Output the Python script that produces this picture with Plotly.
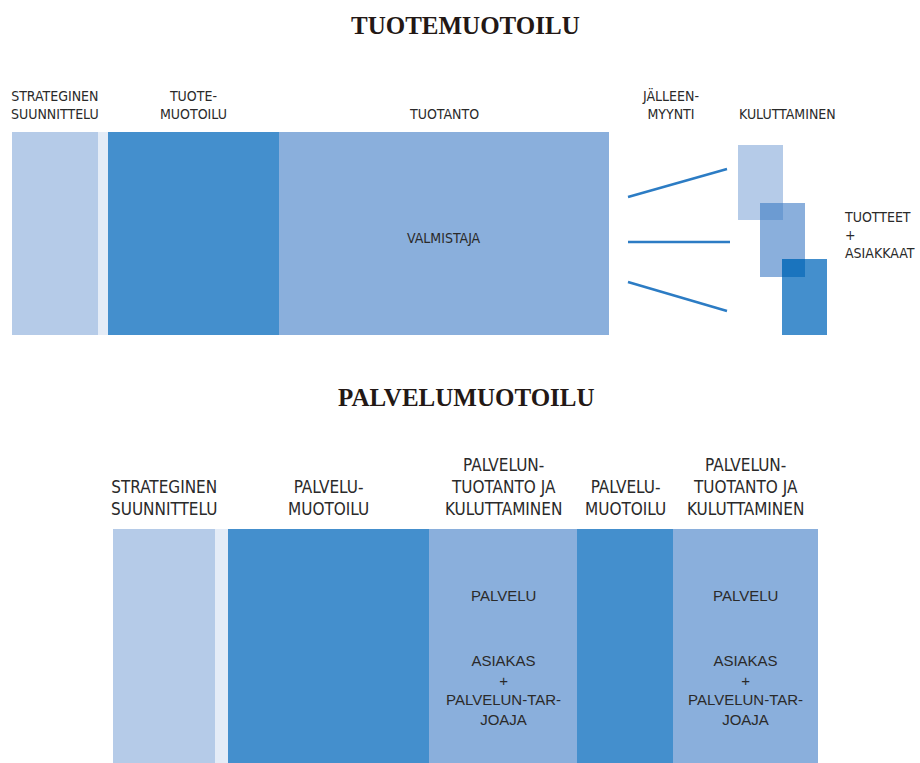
import plotly.graph_objects as go

# ---------------- data ----------------
TITLE_TOP = "TUOTEMUOTOILU"
TITLE_BOTTOM = "PALVELUMUOTOILU"

LIGHT = "#B5CBE8"
GAP = "#E4ECF7"
DARK = "#448FCD"
MED = "#8AAFDC"

# top row (product design) stages
top_labels = ["STRATEGINEN<br>SUUNNITTELU", "", "TUOTE-<br>MUOTOILU", "TUOTANTO"]
top_inner = ["", "", "", "VALMISTAJA"]
top_edges = [12, 98, 108, 279, 609]
top_colors = [LIGHT, GAP, DARK, MED]
top_row_y = [132, 335]

# resale lines
resale_label = "JÄLLEEN-<br>MYYNTI"
line_x = [[628, 727], [628, 730], [628, 727]]
line_y = [[197, 169], [242, 242], [282, 311]]

# consumption squares
consume_label = "KULUTTAMINEN"
sq_x = [[738, 783], [760, 805], [782, 827]]
sq_y = [[145, 220], [203, 277], [259, 335]]
sq_colors = [LIGHT, MED, DARK]
overlap_colors = ["#6C9BD2", "#1A74BE"]
side_label = "TUOTTEET<br>+<br>ASIAKKAAT"

# bottom row (service design) stages
bot_labels = ["STRATEGINEN<br>SUUNNITTELU", "", "PALVELU-<br>MUOTOILU",
              "PALVELUN-<br>TUOTANTO JA<br>KULUTTAMINEN", "PALVELU-<br>MUOTOILU",
              "PALVELUN-<br>TUOTANTO JA<br>KULUTTAMINEN"]
bot_inner1 = ["", "", "", "PALVELU", "", "PALVELU"]
bot_inner2 = ["", "", "", "ASIAKAS<br>+<br>PALVELUN-TAR-<br>JOAJA", "",
              "ASIAKAS<br>+<br>PALVELUN-TAR-<br>JOAJA"]
bot_edges = [113, 215, 228, 429, 577, 673, 818]
bot_colors = [LIGHT, GAP, DARK, MED, DARK, MED]
bot_row_y = [529, 763]

# ---------------- figure ----------------
W, H = 920, 763
SANS_N = "Liberation Sans Narrow, DejaVu Sans Condensed, Arial Narrow, sans-serif"
SANS = "Liberation Sans, Arial, sans-serif"
SERIF = "Liberation Serif, Times New Roman, serif"
TXT = "#2a2a2a"

fig = go.Figure()
shapes = []
ann = []

def rect(x0, x1, y0, y1, color):
    shapes.append(dict(type="rect", xref="x", yref="y", x0=x0, x1=x1, y0=y0, y1=y1,
                       fillcolor=color, line=dict(width=0), layer="below"))

# top row
for i, c in enumerate(top_colors):
    x0, x1 = top_edges[i], top_edges[i + 1]
    rect(x0, x1, top_row_y[0], top_row_y[1], c)
    if top_labels[i]:
        ann.append(dict(x=(x0 + x1) / 2, y=top_row_y[0] - 8, text=top_labels[i],
                        yanchor="bottom", xanchor="center",
                        font=dict(family=SANS_N, size=14, color=TXT)))
    if top_inner[i]:
        ann.append(dict(x=(x0 + x1) / 2, y=(top_row_y[0] + top_row_y[1]) / 2 + 4,
                        text=top_inner[i], yanchor="middle", xanchor="center",
                        font=dict(family=SANS_N, size=14, color=TXT)))

# lines
for lx, ly in zip(line_x, line_y):
    fig.add_trace(go.Scatter(x=lx, y=ly, mode="lines",
                             line=dict(color="#2C7CC4", width=2.5),
                             hoverinfo="skip", showlegend=False))
ann.append(dict(x=670, y=top_row_y[0] - 8, text=resale_label, yanchor="bottom",
                xanchor="center", font=dict(family=SANS_N, size=14, color=TXT)))

# squares
for (x0, x1), (y0, y1), c in zip(sq_x, sq_y, sq_colors):
    shapes.append(dict(type="rect", xref="x", yref="y", x0=x0, x1=x1, y0=y0, y1=y1,
                       fillcolor=c, line=dict(width=0), layer="above"))
for k in range(len(sq_x) - 1):
    ox0 = max(sq_x[k][0], sq_x[k + 1][0]); ox1 = min(sq_x[k][1], sq_x[k + 1][1])
    oy0 = max(sq_y[k][0], sq_y[k + 1][0]); oy1 = min(sq_y[k][1], sq_y[k + 1][1])
    shapes.append(dict(type="rect", xref="x", yref="y", x0=ox0, x1=ox1, y0=oy0, y1=oy1,
                       fillcolor=overlap_colors[k], line=dict(width=0), layer="above"))
ann.append(dict(x=787, y=top_row_y[0] - 8, text=consume_label, yanchor="bottom",
                xanchor="center", font=dict(family=SANS_N, size=14, color=TXT)))
ann.append(dict(x=842, y=235, text=side_label, yanchor="middle", xanchor="left",
                align="left", font=dict(family=SANS_N, size=14, color=TXT)))

# bottom row
for i, c in enumerate(bot_colors):
    x0, x1 = bot_edges[i], bot_edges[i + 1]
    rect(x0, x1, bot_row_y[0], bot_row_y[1], c)
    if bot_labels[i]:
        ann.append(dict(x=(x0 + x1) / 2, y=bot_row_y[0] - 8, text=bot_labels[i],
                        yanchor="bottom", xanchor="center",
                        font=dict(family=SANS_N, size=17, color=TXT)))
    if bot_inner1[i]:
        ann.append(dict(x=(x0 + x1) / 2, y=595, text=bot_inner1[i], yanchor="middle",
                        xanchor="center", font=dict(family=SANS, size=15, color=TXT)))
    if bot_inner2[i]:
        ann.append(dict(x=(x0 + x1) / 2, y=650, text=bot_inner2[i], yanchor="top",
                        xanchor="center", font=dict(family=SANS, size=15, color=TXT)))

# titles
ann.append(dict(x=465, y=25, text="<b>%s</b>" % TITLE_TOP, yanchor="middle",
                xanchor="center", font=dict(family=SERIF, size=25, color="#231815")))
ann.append(dict(x=466, y=397, text="<b>%s</b>" % TITLE_BOTTOM, yanchor="middle",
                xanchor="center", font=dict(family=SERIF, size=25, color="#231815")))

for a in ann:
    a.update(xref="x", yref="y", showarrow=False)

fig.update_layout(
    width=W, height=H,
    margin=dict(l=0, r=0, t=0, b=0),
    paper_bgcolor="white", plot_bgcolor="white",
    shapes=shapes, annotations=ann,
    xaxis=dict(range=[0, W], visible=False, fixedrange=True),
    yaxis=dict(range=[H, 0], visible=False, fixedrange=True),
    showlegend=False,
)

fig.write_html("out.html", config={"displayModeBar": False},
               post_script="document.body.style.margin='0';document.body.style.overflow='hidden';")
